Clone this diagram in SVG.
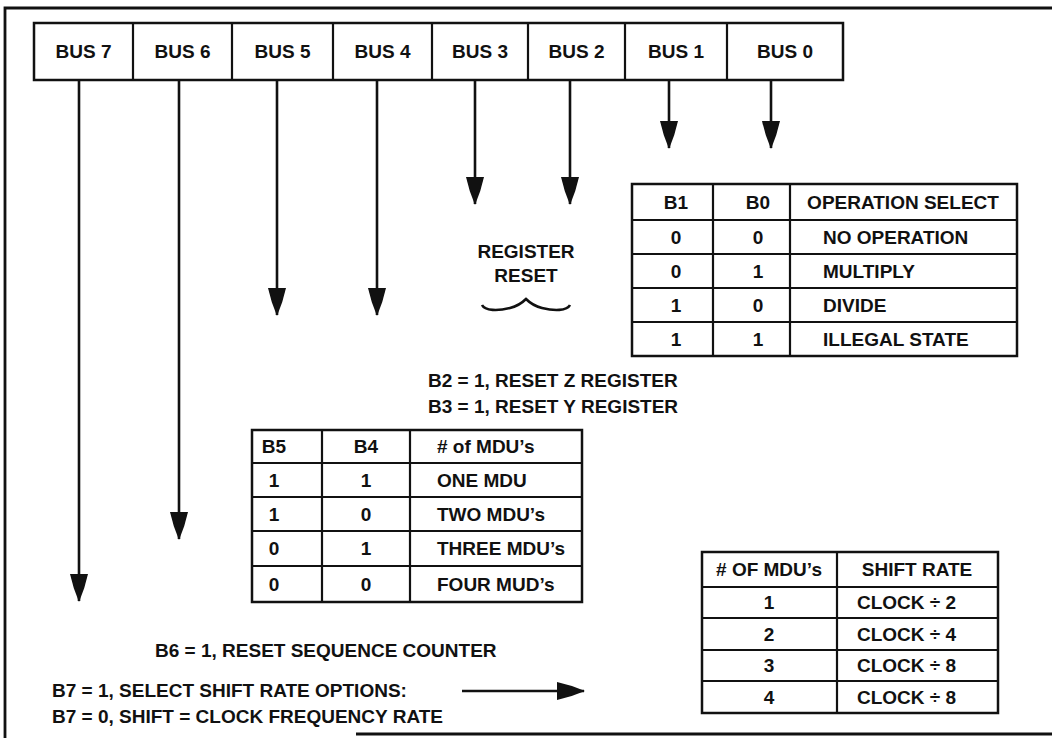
<svg xmlns="http://www.w3.org/2000/svg" width="1052" height="738" viewBox="0 0 1052 738">
<style>
text{font-family:"Liberation Sans",Arial,sans-serif;font-weight:bold;font-size:19px;fill:#111}
.c{text-anchor:middle}
.box{fill:#fff;stroke:#111;stroke-width:2.5}
.ln{stroke:#111;stroke-width:2.2;fill:none}
.wire{stroke:#111;stroke-width:2.6;fill:none}
.brd{stroke:#111;stroke-width:2.8;fill:none}
</style>
<defs>
<marker id="ah" viewBox="0 0 28 18" refX="27" refY="9" markerUnits="userSpaceOnUse" markerWidth="28" markerHeight="18" orient="auto">
<path d="M0,0 Q14,3 28,9 Q14,15 0,18 Z" fill="#111"/>
</marker>
</defs>
<rect width="1052" height="738" fill="#fff"/>
<g id="frame">
<path class="brd" d="M5,738 L5,8 L1052,8"/>
<path class="brd" d="M356,734 L1052,734"/>
</g>
<g id="bus-register">
<rect class="box" x="34" y="23" width="809" height="57"/>
<path class="ln" d="M133,23V80M232,23V80M333,23V80M432,23V80M528,23V80M625,23V80M727,23V80"/>
<text class="c" x="83.5" y="58">BUS 7</text>
<text class="c" x="182.5" y="58">BUS 6</text>
<text class="c" x="282.5" y="58">BUS 5</text>
<text class="c" x="382.5" y="58">BUS 4</text>
<text class="c" x="480" y="58">BUS 3</text>
<text class="c" x="576.5" y="58">BUS 2</text>
<text class="c" x="676" y="58">BUS 1</text>
<text class="c" x="785" y="58">BUS 0</text>
</g>
<g id="connectors">
<path class="wire" marker-end="url(#ah)" d="M79,80 V601"/>
<path class="wire" marker-end="url(#ah)" d="M179,80 V539"/>
<path class="wire" marker-end="url(#ah)" d="M277,80 V315"/>
<path class="wire" marker-end="url(#ah)" d="M377,80 V315"/>
<path class="wire" marker-end="url(#ah)" d="M475,80 V204"/>
<path class="wire" marker-end="url(#ah)" d="M570,80 V204"/>
<path class="wire" marker-end="url(#ah)" d="M669,80 V148"/>
<path class="wire" marker-end="url(#ah)" d="M771,80 V148"/>
<path class="wire" marker-end="url(#ah)" d="M462,691 H584"/>
</g>
<g id="op-select-table">
<rect class="box" x="632" y="184" width="385" height="172"/>
<path class="ln" d="M632,220H1017M632,254H1017M632,288H1017M632,322H1017M713,184V356M790,184V356"/>
<text class="c" x="676" y="209">B1</text>
<text class="c" x="758" y="209">B0</text>
<text class="c" x="903" y="209">OPERATION SELECT</text>
<text class="c" x="676" y="244">0</text><text class="c" x="758" y="244">0</text><text x="823" y="244">NO OPERATION</text>
<text class="c" x="676" y="278">0</text><text class="c" x="758" y="278">1</text><text x="823" y="278">MULTIPLY</text>
<text class="c" x="676" y="312">1</text><text class="c" x="758" y="312">0</text><text x="823" y="312">DIVIDE</text>
<text class="c" x="676" y="346">1</text><text class="c" x="758" y="346">1</text><text x="823" y="346">ILLEGAL STATE</text>
</g>
<g id="register-reset">
<text class="c" x="526" y="258">REGISTER</text>
<text class="c" x="526" y="282">RESET</text>
<path class="wire" d="M482,305 C485,311 498,311 510,308 C518,306 522,303 526,299 C530,303 534,306 542,308 C554,311 567,311 570,305"/>
</g>
<g id="reset-notes">
<text x="428" y="387">B2 = 1, RESET Z REGISTER</text>
<text x="428" y="413">B3 = 1, RESET Y REGISTER</text>
</g>
<g id="mdu-table">
<rect class="box" x="252" y="430" width="330" height="172"/>
<path class="ln" d="M252,463H582M252,497H582M252,531H582M252,566H582M322,430V602M410,430V602"/>
<text class="c" x="274" y="453">B5</text><text class="c" x="366" y="453">B4</text><text x="437" y="453"># of MDU’s</text>
<text class="c" x="274" y="487">1</text><text class="c" x="366" y="487">1</text><text x="437" y="487">ONE MDU</text>
<text class="c" x="274" y="521">1</text><text class="c" x="366" y="521">0</text><text x="437" y="521">TWO MDU’s</text>
<text class="c" x="274" y="555">0</text><text class="c" x="366" y="555">1</text><text x="437" y="555">THREE MDU’s</text>
<text class="c" x="274" y="591">0</text><text class="c" x="366" y="591">0</text><text x="437" y="591">FOUR MUD’s</text>
</g>
<g id="seq-note">
<text x="155" y="657">B6 = 1, RESET SEQUENCE COUNTER</text>
</g>
<g id="shift-notes">
<text x="52" y="697">B7 = 1, SELECT SHIFT RATE OPTIONS:</text>
<text x="52" y="723">B7 = 0, SHIFT = CLOCK FREQUENCY RATE</text>
</g>
<g id="shift-table">
<rect class="box" x="702" y="552" width="296" height="161"/>
<path class="ln" d="M702,587H998M702,618H998M702,650H998M702,681H998M837,552V713"/>
<text class="c" x="769" y="576"># OF MDU’s</text><text class="c" x="917" y="576">SHIFT RATE</text>
<text class="c" x="769" y="609">1</text><text x="857" y="609">CLOCK ÷ 2</text>
<text class="c" x="769" y="641">2</text><text x="857" y="641">CLOCK ÷ 4</text>
<text class="c" x="769" y="672">3</text><text x="857" y="672">CLOCK ÷ 8</text>
<text class="c" x="769" y="704">4</text><text x="857" y="704">CLOCK ÷ 8</text>
</g>
</svg>
